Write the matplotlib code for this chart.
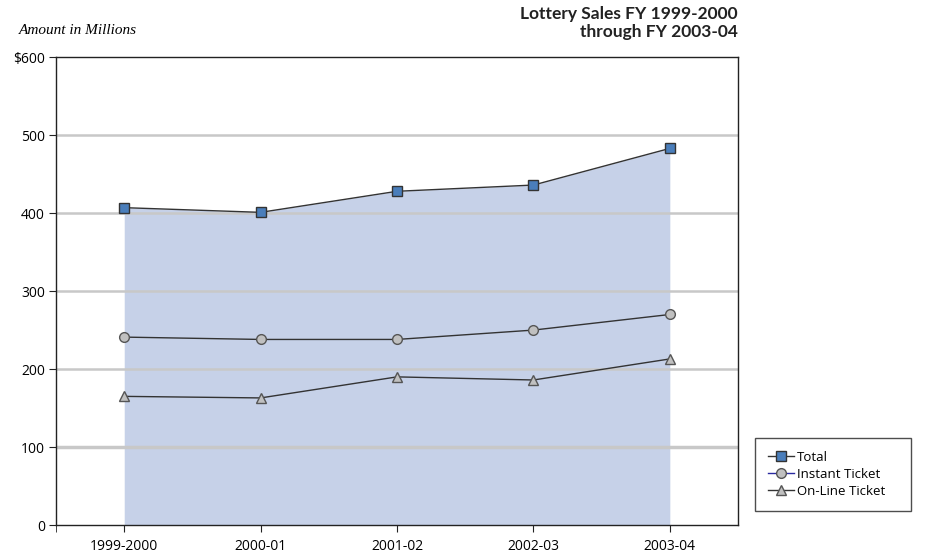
import matplotlib.pyplot as plt
from matplotlib.lines import Line2D

years = ["1999-2000", "2000-01", "2001-02", "2002-03", "2003-04"]
total = [407, 401, 428, 436, 483]
instant = [241, 238, 238, 250, 270]
online = [165, 163, 190, 186, 213]

plt.rcParams['font.family'] = ['Open Sans', 'DejaVu Sans']

fig = plt.figure(figsize=(9.26, 5.55), dpi=100)
ax = fig.add_axes([0.0605, 0.054, 0.7365, 0.843])

x = range(len(years))
ax.fill_between(x, 0, total, color='#c6d1e8', zorder=1, linewidth=0)
ax.plot(x, total, color='#333333', lw=1, marker='s', ms=7,
        mfc='#4a7ebb', mec='#333333', mew=1, zorder=3)
ax.plot(x, instant, color='#333333', lw=1, marker='o', ms=7,
        mfc='#c0c0c0', mec='#555555', mew=1, zorder=3)
ax.plot(x, online, color='#333333', lw=1, marker='^', ms=7,
        mfc='#c0c0c0', mec='#555555', mew=1, zorder=3)

ax.set_xlim(-0.5, 4.5)
ax.set_ylim(0, 600)
ax.set_yticks([0, 100, 200, 300, 400, 500, 600])
ax.set_yticklabels(["0", "100", "200", "300", "400", "500", "$600"], fontsize=10)
ax.set_xticks(list(x))
ax.set_xticklabels(years, fontsize=10)
ax.set_xticks([-0.5], minor=True)
ax.tick_params(axis='x', which='both', length=5, color='#222222', pad=5)
ax.tick_params(axis='y', length=5, color='#222222', pad=3)
for yv in [100, 200, 300, 400, 500]:
    ax.axhline(yv, color='#c8c8c8', lw=2.5 if yv == 100 else 1.8, zorder=2)
for s in ax.spines.values():
    s.set_color('#222222')
    s.set_linewidth(1)

fig.text(0.797, 0.99, "Lottery Sales FY 1999-2000\nthrough FY 2003-04",
         ha='right', va='top', fontsize=12.5, fontweight='bold', linespacing=1.15,
         family=['Lato', 'DejaVu Sans'], color='#222222')
fig.text(0.02, 0.945, "Amount in Millions", ha='left', va='center',
         fontsize=11, style='italic', family='Liberation Serif')

handles = [
    Line2D([], [], color='#333333', lw=1, marker='s', ms=7, mfc='#4a7ebb', mec='#333333'),
    Line2D([], [], color='#2a2aa0', lw=1, marker='o', ms=7, mfc='#c0c0c0', mec='#555555'),
    Line2D([], [], color='#333333', lw=1, marker='^', ms=7, mfc='#c0c0c0', mec='#555555'),
]
leg = fig.legend(handles, ["Total", "Instant Ticket", "On-Line Ticket"],
                 loc='lower left', bbox_to_anchor=(0.808, 0.067, 0.183, 0.145),
                 mode='expand', fontsize=9.5, frameon=True, fancybox=False,
                 handlelength=2, handletextpad=0.2, labelspacing=0.3,
                 borderpad=1.0)
leg.get_frame().set_edgecolor('#222222')
leg.get_frame().set_linewidth(1)

fig.savefig("out.png", dpi=100)
